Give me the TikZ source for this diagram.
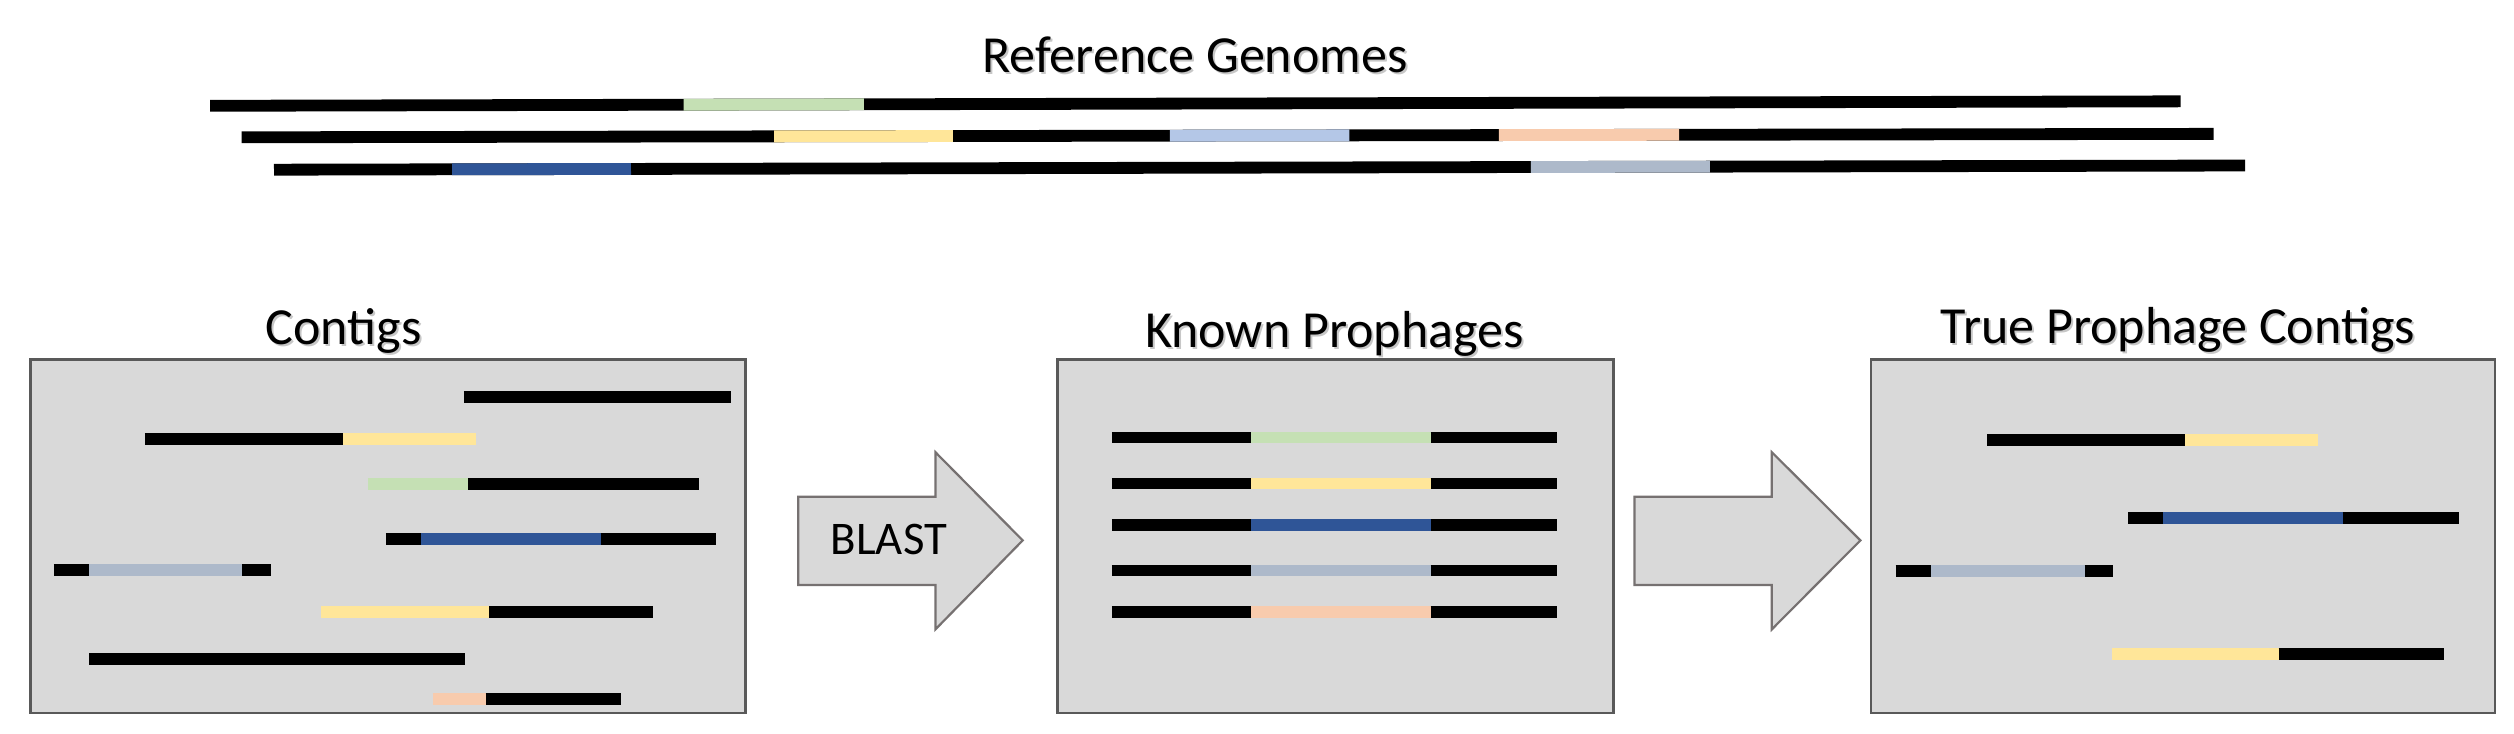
\documentclass[tikz,border=0pt]{standalone}
\usepackage{fontspec}
\setmainfont{Carlito}
\definecolor{gGreen}{HTML}{C5E0B4}
\definecolor{gYellow}{HTML}{FFE699}
\definecolor{gLightBlue}{HTML}{B4C7E7}
\definecolor{gPeach}{HTML}{F8CBAD}
\definecolor{gDarkBlue}{HTML}{2F5597}
\definecolor{gGrayBlue}{HTML}{ADB9CA}
\definecolor{panelFill}{HTML}{D9D9D9}
\definecolor{panelBorder}{HTML}{595959}
\definecolor{arrowBorder}{HTML}{767171}
\newcommand{\segline}[4]{\draw[seg,#1] (#2,#4) -- (#3,#4);}
\tikzset{
  seg/.style={line width=0.118cm},
  panel/.style={draw=panelBorder, line width=0.025cm, fill=panelFill, inner sep=0pt, anchor=north west, minimum height=3.534cm},
  titletext/.style={font=\fontsize{14.8pt}{17pt}\selectfont, inner sep=0pt, anchor=base, text=black},
  shadowtext/.style={titletext, text=black, opacity=0.22},
  blastarrow/.style={draw=arrowBorder, line width=0.022cm, fill=panelFill, line join=miter},
  blasttext/.style={font=\fontsize{13.3pt}{16pt}\selectfont, inner sep=0pt, anchor=base west}
}
\begin{document}
\begin{tikzpicture}[x=0.01cm, y=-0.01cm]
\fill[white] (0,0) rectangle (2514,734);
\useasboundingbox (0,0) rectangle (2514,734);

% Titles (with soft shadow)
\node[shadowtext] (refs) at (1197,74.5) {Reference Genomes};
\node[titletext] (ref) at (1195,72.5) {Reference Genomes};
\node[shadowtext] (contigss) at (345.7,347) {Contigs};
\node[titletext] (contigs) at (343.7,345) {Contigs};
\node[shadowtext] (knowns) at (1336.5,350) {Known Prophages};
\node[titletext] (known) at (1334.5,348) {Known Prophages};
\node[shadowtext] (trues) at (2180,345.3) {True Prophage Contigs};
\node[titletext] (true) at (2178,343.3) {True Prophage Contigs};

% Reference genome lines (slightly tilted)
\begin{scope}[rotate around={0.13:(210.2,105.8)}]
  \segline{black}{210.2}{2180.7}{105.8}
  \segline{gGreen}{683.7}{864}{105.8}
\end{scope}
\begin{scope}[rotate around={0.10:(241.7,137.3)}]
  \segline{black}{241.7}{2213.7}{137.3}
  \segline{gYellow}{774.2}{953}{137.3}
  \segline{gLightBlue}{1169.8}{1349.4}{137.3}
  \segline{gPeach}{1498.8}{1679.1}{137.3}
\end{scope}
\begin{scope}[rotate around={0.122:(274,169.7)}]
  \segline{black}{274}{2245.2}{169.7}
  \segline{gDarkBlue}{452.2}{631}{169.7}
  \segline{gGrayBlue}{1531}{1710}{169.7}
\end{scope}

% Panels
\node[panel, minimum width=7.15cm] (box1) at (29,358.3) {};
\node[panel, minimum width=5.557cm] (box2) at (1056.3,358.3) {};
\node[panel, minimum width=6.237cm] (box3) at (1869.9,358.3) {};

% Contigs
\segline{black}{463.9}{730.5}{397}
\segline{black}{144.9}{343.2}{438.7}
\segline{gYellow}{343.2}{476}{438.7}
\segline{gGreen}{367.9}{468.3}{484}
\segline{black}{468.3}{699}{484}
\segline{black}{385.9}{421.2}{539.2}
\segline{gDarkBlue}{421.2}{600.6}{539.2}
\segline{black}{600.6}{716.4}{539.2}
\segline{black}{53.8}{89.2}{570}
\segline{gGrayBlue}{89.2}{242.4}{570}
\segline{black}{242.4}{270.5}{570}
\segline{gYellow}{320.9}{489.1}{612.2}
\segline{black}{489.1}{652.9}{612.2}
\segline{black}{89.2}{465.3}{659.2}
\segline{gPeach}{432.9}{485.7}{698.7}
\segline{black}{485.7}{620.5}{698.7}

% Known prophages
\foreach \yy/\cc in {437.5/gGreen, 483.5/gYellow, 525.3/gDarkBlue, 570.5/gGrayBlue, 611.8/gPeach}{
  \segline{black}{1111.9}{1251.1}{\yy}
  \segline{\cc}{1251.1}{1430.7}{\yy}
  \segline{black}{1430.7}{1557}{\yy}
}

% True prophage contigs
\segline{black}{1987}{2185.3}{440}
\segline{gYellow}{2185.3}{2317.5}{440}
\segline{black}{2128}{2163.1}{518}
\segline{gDarkBlue}{2163.1}{2342.6}{518}
\segline{black}{2342.6}{2458.6}{518}
\segline{black}{1895.6}{1930.8}{571.3}
\segline{gGrayBlue}{1930.8}{2084.6}{571.3}
\segline{black}{2084.6}{2113}{571.3}
\segline{gYellow}{2111.7}{2278.7}{654.1}
\segline{black}{2278.7}{2443.8}{654.1}

% Block arrows
\draw[blastarrow] (798.2,496.7) -- (935.4,496.7) -- (935.4,452.2) -- (1022.7,540.4) -- (935.4,629.4) -- (935.4,585) -- (798.2,585) -- cycle;
\draw[blastarrow] (1634.5,496.7) -- (1771.8,496.7) -- (1771.8,452.2) -- (1860.4,540.4) -- (1771.8,629.4) -- (1771.8,585) -- (1634.5,585) -- cycle;
\node[blasttext] (blast) at (830.2,555) {BLAST};
\end{tikzpicture}
\end{document}
